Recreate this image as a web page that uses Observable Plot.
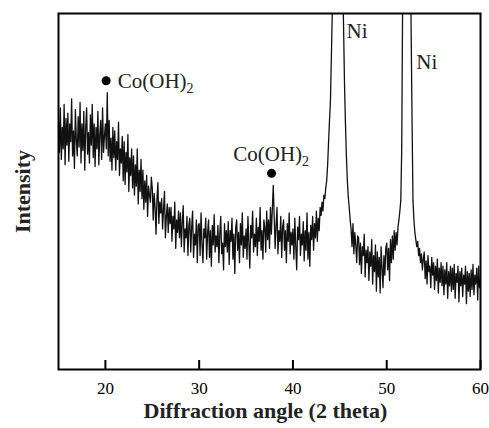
<!DOCTYPE html>
<html>
<head>
<meta charset="utf-8">
<script src="https://cdn.jsdelivr.net/npm/d3@7"></script>
<script src="https://cdn.jsdelivr.net/npm/@observablehq/plot@0.6"></script>
<style>
  body { margin: 0; background: #ffffff; }
</style>
</head>
<body>
<div id="chart"></div>
<script>
// ---- data (arbitrary intensity units, 0–1000 = plot height) ----
const angleStart = 15;   // degrees 2θ, first sample
const angleStep = 0.1;   // sampling step of the trace
const intensity = [
  700, 610, 735, 590, 680, 620, 745, 575, 705, 630, // 15
  720, 585, 690, 640, 760, 600, 670, 565, 730, 645, // 16
  600, 710, 625, 750, 580, 690, 615, 725, 560, 680, // 17
  735, 605, 665, 580, 715, 630, 745, 595, 690, 570, // 18
  680, 620, 725, 575, 660, 700, 590, 735, 610, 655, // 19
  690, 620, 778, 600, 700, 585, 650, 560, 680, 595, // 20
  670, 560, 640, 590, 695, 545, 620, 580, 655, 530, // 21
  640, 520, 610, 555, 660, 500, 595, 545, 620, 510, // 22
  600, 490, 575, 515, 620, 465, 560, 500, 590, 480, // 23
  560, 450, 530, 470, 545, 430, 515, 490, 470, 540, // 24
  510, 420, 495, 455, 380, 480, 525, 410, 470, 440, // 25
  480, 395, 450, 500, 370, 430, 465, 385, 455, 410, // 26
  455, 360, 430, 395, 470, 340, 420, 385, 445, 370, // 27
  440, 345, 415, 460, 330, 395, 370, 430, 320, 405, // 28
  425, 330, 400, 445, 315, 380, 350, 420, 300, 405, // 29
  410, 320, 440, 355, 300, 395, 370, 425, 310, 385, // 30
  420, 315, 390, 290, 405, 350, 435, 330, 375, 345, // 31
  405, 300, 380, 430, 325, 355, 280, 410, 345, 390, // 32
  330, 415, 295, 390, 360, 425, 310, 380, 270, 400, // 33
  420, 335, 385, 300, 410, 350, 440, 315, 375, 340, // 34
  395, 310, 430, 355, 285, 405, 370, 445, 330, 380, // 35
  345, 425, 320, 400, 360, 455, 335, 390, 310, 420, // 36
  400, 330, 445, 365, 420, 340, 455, 380, 450, 517, // 37
  430, 340, 405, 455, 325, 390, 360, 430, 315, 400, // 38
  420, 335, 390, 300, 410, 360, 440, 325, 385, 350, // 39
  395, 310, 425, 345, 280, 400, 365, 430, 320, 380, // 40
  350, 415, 305, 390, 335, 440, 310, 385, 290, 405, // 41
  365, 430, 335, 410, 370, 445, 360, 425, 390, 455, // 42
  433, 470, 445, 490, 480, 510, 530, 575, 640, 700, // 43
  756, 880, 1010, 1300, 1700, 2200, 2600, 2800, 2900, 2700, // 44
  2300, 1800, 1400, 1100, 960, 800, 690, 600, 530, 485, // 45
  455, 420, 395, 345, 410, 325, 385, 350, 300, 375, // 46
  370, 295, 355, 270, 345, 320, 380, 260, 335, 300, // 47
  345, 250, 330, 290, 365, 240, 320, 275, 350, 220, // 48
  330, 260, 315, 215, 345, 285, 230, 320, 265, 340, // 49
  355, 280, 340, 250, 365, 300, 375, 310, 390, 335, // 50
  385, 350, 400, 420, 445, 475, 620, 1050, 1600, 2100, // 51
  2400, 2500, 2400, 2100, 1700, 1300, 960, 700, 475, 420, // 52
  385, 365, 345, 360, 320, 340, 300, 325, 280, 310, // 53
  330, 255, 305, 240, 320, 275, 290, 230, 315, 265, // 54
  300, 225, 290, 250, 310, 215, 285, 245, 300, 235, // 55
  290, 210, 280, 240, 300, 200, 275, 235, 290, 220, // 56
  285, 225, 295, 200, 270, 245, 290, 190, 275, 235, // 57
  285, 205, 265, 240, 290, 185, 275, 220, 270, 205, // 58
  280, 225, 295, 210, 265, 240, 285, 195, 290, 230, // 59
  255                                              // 60
];

const xTicks = [20, 30, 40, 50, 60];
const xTitle = "Diffraction angle (2 theta)";
const yTitle = "Intensity";

// Co(OH)2 peak markers
const markerAngle = [20.08, 37.72];
const markerIntensity = [811, 551];
// Co(OH)2 labels (first one to the right of its marker, second one above)
const coLabel = ["Co(OH)2", "Co(OH)2"];
const coLabelAngle = [21.32, 37.68];
const coLabelIntensity = [811, 604];
// Ni labels
const niLabel = ["Ni", "Ni"];
const niLabelAngle = [45.72, 53.15];
const niLabelIntensity = [949, 862];

// ---- build tables ----
const trace = intensity.map((v, i) => ({angle: angleStart + i * angleStep, intensity: v}));
const markers = markerAngle.map((a, i) => ({angle: a, intensity: markerIntensity[i]}));
const coLabels = coLabel.map((t, i) => ({text: t, angle: coLabelAngle[i], intensity: coLabelIntensity[i]}));
const niLabels = niLabel.map((t, i) => ({text: t, angle: niLabelAngle[i], intensity: niLabelIntensity[i]}));

const serif = "'Liberation Serif', 'Times New Roman', Times, serif";

const chart = Plot.plot({
  width: 489,
  height: 428,
  marginLeft: 58,
  marginRight: 9,
  marginTop: 13,
  marginBottom: 59,
  style: {fontFamily: serif, background: "white", color: "black", overflow: "visible"},
  x: {domain: [15, 60]},
  y: {domain: [0, 1000], axis: null},
  marks: [
    Plot.line(trace, {x: "angle", y: "intensity", stroke: "#111", strokeWidth: 1.3, clip: true}),
    Plot.axisX({ticks: xTicks, tickSize: 0, tickPadding: 12, fontSize: 17, label: null}),
    Plot.tickX(xTicks, {x: (d) => d, insetTop: 347, stroke: "black", strokeWidth: 2}),
    Plot.frame({stroke: "black", strokeWidth: 2}),
    Plot.dot(markers, {x: "angle", y: "intensity", r: 4.5, fill: "black", stroke: "none"}),
    Plot.text([coLabels[0]], {x: "angle", y: "intensity", text: "text", textAnchor: "start", fontSize: 21, fill: "#222"}),
    Plot.text([coLabels[1]], {x: "angle", y: "intensity", text: "text", textAnchor: "middle", fontSize: 21, fill: "#222"}),
    Plot.text(niLabels, {x: "angle", y: "intensity", text: "text", textAnchor: "start", fontSize: 21, fill: "#222"}),
    Plot.text([xTitle], {frameAnchor: "bottom", textAnchor: "middle", lineAnchor: "middle", dy: 41, dx: -4, fontSize: 22, fontWeight: "bold", fill: "#222"}),
    Plot.text([yTitle], {frameAnchor: "left", textAnchor: "middle", lineAnchor: "middle", rotate: -90, dx: -36, fontSize: 22, fontWeight: "bold", fill: "#222"})
  ]
});

// subscript "2" in the chemical formula
chart.querySelectorAll("text").forEach((t) => {
  if (t.textContent === "Co(OH)2") {
    t.textContent = "Co(OH)";
    const sub = document.createElementNS("http://www.w3.org/2000/svg", "tspan");
    sub.setAttribute("font-size", "14");
    sub.setAttribute("dy", "5");
    sub.textContent = "2";
    t.appendChild(sub);
  }
});

document.getElementById("chart").appendChild(chart);
</script>
</body>
</html>
